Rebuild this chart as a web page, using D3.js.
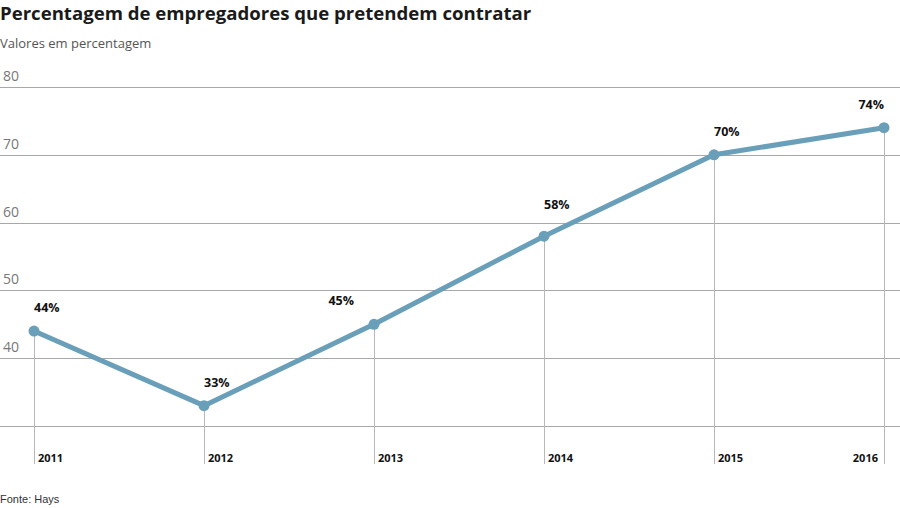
<!DOCTYPE html>
<html><head><meta charset="utf-8">
<script src="https://cdn.jsdelivr.net/npm/d3@7"></script>
<style>body{margin:0;background:#fff}svg{display:block}</style>
</head><body><svg id="c" width="900" height="508"></svg>
<script>
const years = ["2011","2012","2013","2014","2015","2016"];
const values = [44, 33, 45, 58, 70, 74];
const yTicks = [30, 40, 50, 60, 70, 80];
const title = "Percentagem de empregadores que pretendem contratar";
const subtitle = "Valores em percentagem";
const source = "Fonte: Hays";

const svg = d3.select("#c");
const x = d3.scalePoint().domain(years).range([34, 884]);
const y = d3.scaleLinear().domain([30, 80]).range([426, 87]);

svg.append("text").attr("x", 0).attr("y", 20)
  .attr("font-family", "'Open Sans', sans-serif").attr("font-weight", 700)
  .attr("font-size", 18.6).attr("fill", "#1a1a1a").text(title);
svg.append("text").attr("x", 0).attr("y", 48)
  .attr("font-family", "'Open Sans', sans-serif").attr("font-size", 13)
  .attr("fill", "#555").text(subtitle);

// grid
const g = svg.append("g");
g.selectAll("line.grid").data(yTicks).join("line")
  .attr("x1", 0).attr("x2", 900)
  .attr("y1", d => Math.round(y(d)) + 0.5).attr("y2", d => Math.round(y(d)) + 0.5)
  .attr("stroke", "#a8a8a8").attr("stroke-width", 1);
g.selectAll("text.tick").data(yTicks.filter(d => d > 30)).join("text")
  .attr("x", 3).attr("y", d => y(d) - 6)
  .attr("font-family", "'Open Sans', sans-serif").attr("font-size", 14)
  .attr("fill", "#777").text(d => d);

// vertical drop lines
g.selectAll("line.drop").data(years).join("line")
  .attr("x1", d => Math.round(x(d)) + 0.5).attr("x2", d => Math.round(x(d)) + 0.5)
  .attr("y1", (d, i) => y(values[i])).attr("y2", 464)
  .attr("stroke", "#b8b8b8").attr("stroke-width", 1);

// year labels
g.selectAll("text.year").data(years).join("text")
  .attr("x", (d, i) => i === years.length - 1 ? x(d) - 6 : x(d) + 4)
  .attr("y", 462)
  .attr("text-anchor", (d, i) => i === years.length - 1 ? "end" : "start")
  .attr("font-family", "'Open Sans', sans-serif").attr("font-weight", 700)
  .attr("font-size", 11).attr("fill", "#111").text(d => d);

// line
const line = d3.line().x((d, i) => x(years[i])).y(d => y(d));
svg.append("path").datum(values).attr("d", line)
  .attr("fill", "none").attr("stroke", "#6a9fba").attr("stroke-width", 5)
  .attr("stroke-linejoin", "round");
svg.selectAll("circle").data(values).join("circle")
  .attr("cx", (d, i) => x(years[i])).attr("cy", d => y(d)).attr("r", 5.5)
  .attr("fill", "#6a9fba");

// value labels
svg.selectAll("text.val").data(values).join("text")
  .attr("x", (d, i) => (i === 2) ? x(years[i]) - 20 : x(years[i]))
  .attr("y", (d, i) => y(d) - (i === 3 ? 27 : 19))
  .attr("text-anchor", (d, i) => (i === 2 || i === years.length - 1) ? "end" : "start")
  .attr("font-family", "'Open Sans', sans-serif").attr("font-weight", 700)
  .attr("font-size", 12.5).attr("fill", "#111").text(d => d + "%");

svg.append("text").attr("x", 0).attr("y", 503)
  .attr("font-family", "'Liberation Sans', Arial, sans-serif").attr("font-size", 11)
  .attr("fill", "#333").text(source);
</script></body></html>
